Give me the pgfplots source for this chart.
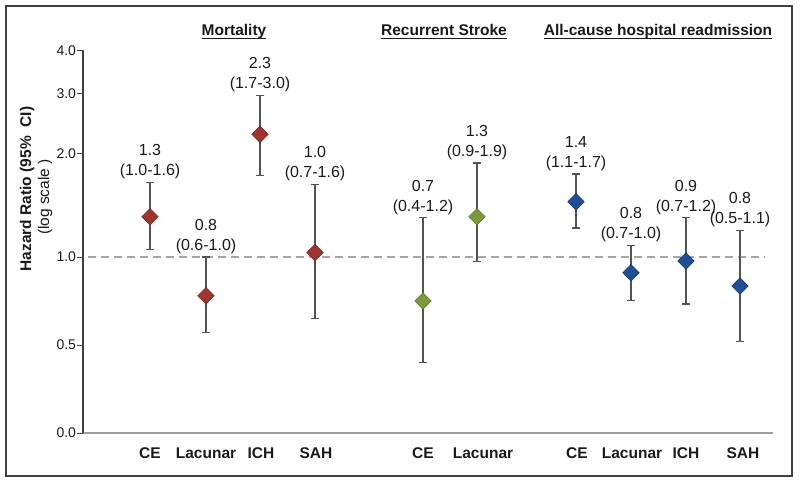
\documentclass[border=0pt]{standalone}
\usepackage{fontspec}
\setmainfont{Liberation Sans}
\usepackage{pgfplots}
\pgfplotsset{compat=1.18}
\definecolor{mred}{HTML}{A0342F}
\definecolor{mredd}{HTML}{7A2420}
\definecolor{mgreen}{HTML}{7A9A3A}
\definecolor{mgreend}{HTML}{5A7528}
\definecolor{mblue}{HTML}{1F4F96}
\definecolor{mblued}{HTML}{163A70}
\definecolor{framec}{HTML}{404040}
\definecolor{txt}{HTML}{1A1A1A}
\begin{document}
\begin{tikzpicture}[x=1pt,y=1pt,
  lab/.style={pos=1, anchor=south, align=center, inner sep=2pt, yshift=1pt, text=txt, font=\fontsize{16}{20}\selectfont}]
\path[use as bounding box] (0,0) rectangle (800,483);
\draw[line width=1.6pt, color=framec] (6,7) rectangle (792,477);
\begin{axis}[
  at={(83pt,50pt)}, anchor=south west, scale only axis,
  width=690pt, height=382.6pt,
  xmin=83, xmax=773, ymin=0, ymax=4,
  clip=false,
  y coord trafo/.code={\pgfmathparse{((#1)<1) ? (#1) : (1+1.95*log10(max(#1,1)))}},
  axis x line*=bottom, axis y line*=left,
  x axis line style={-, draw=gray!75, line width=1.5pt},
  y axis line style={-, draw=framec, line width=1.2pt},
  ytick={0,0.5,1,2,3,4},
  yticklabels={0.0,0.5,1.0,2.0,3.0,4.0},
  xtick={150,206,261,316,423,483,577,632,686,743},
  xticklabels={CE,Lacunar,ICH,SAH,CE,Lacunar,CE,Lacunar,ICH,SAH},
  tick align=outside, major tick length=6pt,
  y tick style={draw=framec, line width=1pt},
  x tick style={draw=none},
  xticklabel style={font=\fontsize{15.5}{18}\selectfont\bfseries, text=txt, yshift=-5pt},
  yticklabel style={font=\fontsize{14}{16}\selectfont, text=txt, xshift=2.5pt},
  /pgf/number format/assume math mode=true,
  errbar/.style={draw=framec!90, line width=1.1pt, mark=-, mark size=4.2pt, mark options={line width=1.1pt}},
]
\addplot[draw=gray!70, line width=1.2pt, dash pattern=on 8pt off 5pt] coordinates {(88,1) (765,1)};
% error bars with labels
\addplot[errbar] coordinates {(150,1.05) (150,1.65)} node[lab] {1.3\\(1.0-1.6)};
\addplot[errbar] coordinates {(206,0.57) (206,1.0)} node[lab] {0.8\\(0.6-1.0)};
\addplot[errbar] coordinates {(260,1.73) (260,2.96)} node[lab] {2.3\\(1.7-3.0)};
\addplot[errbar] coordinates {(315,0.65) (315,1.63)} node[lab] {1.0\\(0.7-1.6)};
\addplot[errbar] coordinates {(423,0.40) (423,1.30)} node[lab] {0.7\\(0.4-1.2)};
\addplot[errbar] coordinates {(477,0.977) (477,1.88)} node[lab] {1.3\\(0.9-1.9)};
\addplot[errbar] coordinates {(576,1.215) (576,1.746)} node[lab] {1.4\\(1.1-1.7)};
\addplot[errbar] coordinates {(631,0.752) (631,1.079)} node[lab] {0.8\\(0.7-1.0)};
\addplot[errbar] coordinates {(686,0.733) (686,1.30)} node[lab] {0.9\\(0.7-1.2)};
\addplot[errbar] coordinates {(740,0.519) (740,1.198)} node[lab] {0.8\\(0.5-1.1)};
% point estimates
\addplot[only marks, mark=square*, mark size=5.8pt, mark options={rotate=45, fill=mred, draw=mredd, line width=0.6pt}]
  coordinates {(150,1.31) (206,0.78) (260,2.28) (315,1.03)};
\addplot[only marks, mark=square*, mark size=5.8pt, mark options={rotate=45, fill=mgreen, draw=mgreend, line width=0.6pt}]
  coordinates {(423,0.75) (477,1.31)};
\addplot[only marks, mark=square*, mark size=5.8pt, mark options={rotate=45, fill=mblue, draw=mblued, line width=0.6pt}]
  coordinates {(576,1.45) (631,0.91) (686,0.977) (740,0.835)};
\end{axis}
% titles
\begin{scope}[every node/.style={inner sep=0pt, anchor=base, text=txt, font=\fontsize{15.5}{18}\selectfont\bfseries}]
\node (t1) at (234,447) {Mortality};
\node (t2) at (444,447) {Recurrent Stroke};
\node (t3) at (658,447) {All-cause hospital readmission};
\end{scope}
\foreach \t in {t1,t2,t3}{\draw[txt, line width=0.9pt] ([yshift=-2pt]\t.base west) -- ([yshift=-2pt]\t.base east);}
% y label
\node[rotate=90, text=txt, font=\fontsize{15.5}{18}\selectfont\bfseries] at (27,294) {Hazard Ratio (95\%\ \ CI)};
\node[rotate=90, text=txt, font=\fontsize{15.5}{18}\selectfont] at (45,286) {(log scale )};
\end{tikzpicture}
\end{document}
